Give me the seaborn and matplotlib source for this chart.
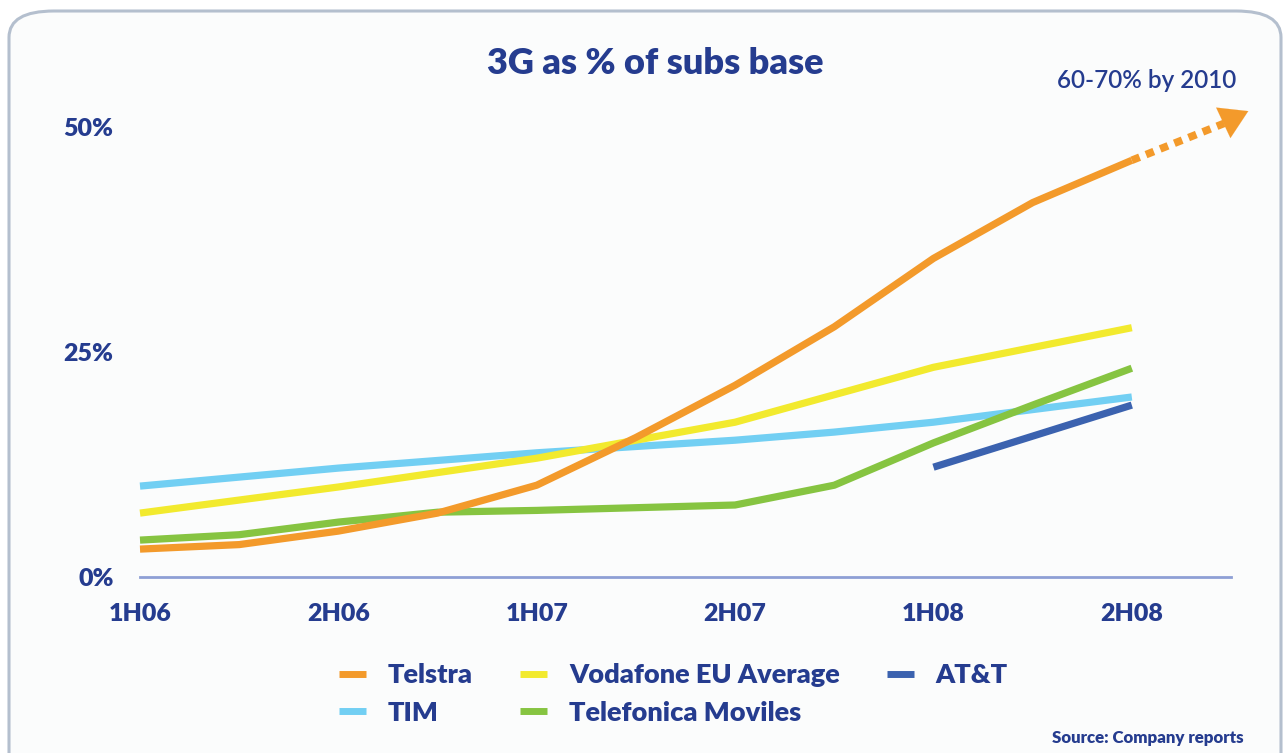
import matplotlib
matplotlib.use("Agg")
import matplotlib.pyplot as plt
from matplotlib.patches import FancyBboxPatch
from matplotlib.lines import Line2D
import seaborn as sns
import pandas as pd

# ---- data ----
tick_labels = ["1H06", "2H06", "1H07", "2H07", "1H08", "2H08"]
tick_pos = [0, 2, 4, 6, 8, 10]  # half-year positions on a quarter grid

telstra_x = [0, 1, 2, 3, 4, 5, 6, 7, 8, 9, 10]
telstra_y = [3.1, 3.6, 5.1, 7.1, 10.2, 15.5, 21.3, 27.8, 35.4, 41.6, 46.3]

vodafone_x = [0, 2, 4, 6, 8, 10]
vodafone_y = [7.1, 10.0, 13.2, 17.2, 23.3, 27.7]

tim_x = [0, 2, 4, 6, 7, 8, 10]
tim_y = [10.1, 12.1, 13.8, 15.2, 16.1, 17.2, 20.0]

telefonica_x = [0, 1, 2, 3, 4, 5, 6, 7, 8, 9, 10]
telefonica_y = [4.1, 4.7, 6.1, 7.2, 7.4, 7.7, 8.0, 10.2, 14.9, 19.1, 23.2]

att_x = [8, 10]
att_y = [12.2, 19.1]

outlook_label = "60-70% by 2010"
outlook_target = (11.2, 51.9)

series = [
    ("TIM", tim_x, tim_y, "#72CFF3"),
    ("Telefonica Moviles", telefonica_x, telefonica_y, "#86C441"),
    ("Vodafone EU Average", vodafone_x, vodafone_y, "#F2EA2E"),
    ("Telstra", telstra_x, telstra_y, "#F39A2B"),
    ("AT&T", att_x, att_y, "#3B62AF"),
]
colors = {name: c for name, _, _, c in series}

NAVY = "#253C8F"
FONT = ["Lato", "DejaVu Sans"]
HEAVY = "heavy"

sns.set_theme(style="white")
plt.rcParams["font.family"] = FONT

fig = plt.figure(figsize=(12.87, 7.53), dpi=100)
fig.patch.set_facecolor("white")

# rounded background panel
panel = FancyBboxPatch((9 / 1287, -0.05), (1281 - 9) / 1287, 1 - 11 / 753 + 0.05,
                       boxstyle="round,pad=0,rounding_size=0.035",
                       transform=fig.transFigure, facecolor="#FBFCFC",
                       edgecolor="#B4BFCE", linewidth=2.2, zorder=-5)
fig.patches.append(panel)

ax = fig.add_axes([140 / 1287, 1 - 577 / 753, (1231 - 140) / 1287, (577 - 109) / 753])
ax.set_zorder(2)
ax.set_facecolor("none")

for name, xs, ys, c in series:
    df = pd.DataFrame({"x": xs, "y": ys})
    sns.lineplot(data=df, x="x", y="y", color=c, linewidth=5.2, ax=ax,
                 legend=False, clip_on=False, solid_capstyle="butt")

# dotted outlook extension for Telstra
ax.plot([telstra_x[-1], 10.93], [telstra_y[-1], 50.4], color=colors["Telstra"],
        linewidth=5.5, linestyle=(0, (1.1, 0.9)), clip_on=False,
        dash_capstyle="butt")
ax.annotate("", xy=outlook_target, xytext=(10.9, 50.35),
            arrowprops=dict(arrowstyle="-|>,head_length=0.9,head_width=0.55",
                            color=colors["Telstra"], lw=0.1, mutation_scale=22),
            annotation_clip=False)

ax.set_xlim(0, 11)
ax.set_ylim(0, 52)
ax.set_xticks(tick_pos)
ax.set_xticklabels(tick_labels)
ax.set_yticks([0, 25, 50])
ax.set_yticklabels(["0%", "25%", "50%"])
ax.set_xlabel("")
ax.set_ylabel("")
ax.tick_params(axis="both", length=0, labelcolor=NAVY, labelsize=18)
ax.tick_params(axis="x", pad=19)
ax.tick_params(axis="y", pad=19)
for lab in ax.get_xticklabels() + ax.get_yticklabels():
    lab.set_fontweight(HEAVY)
for s in ["top", "right", "left"]:
    ax.spines[s].set_visible(False)
ax.spines["bottom"].set_color("#8E9FD5")
ax.spines["bottom"].set_linewidth(2.0)
ax.grid(False)

fig.text(655 / 1287, 1 - 63 / 753, "3G as % of subs base", ha="center", va="center",
         fontsize=26, fontweight=HEAVY, color=NAVY)
fig.text(1147 / 1287, 1 - 80 / 753, outlook_label, ha="center", va="center",
         fontsize=17.5, fontweight="semibold", color=NAVY)

order = ["Telstra", "TIM", "Vodafone EU Average", "Telefonica Moviles", "AT&T"]
handles = [Line2D([0], [0], color=colors[n], linewidth=5, solid_capstyle="butt")
           for n in order]
leg = fig.legend(handles, order, ncol=3, loc="upper left",
                 bbox_to_anchor=(339 / 1287, 1 - 663 / 753), frameon=False,
                 prop={"family": FONT, "weight": HEAVY, "size": 19.5},
                 handlelength=1.0, handletextpad=0.8, columnspacing=1.75,
                 labelspacing=0.5, borderaxespad=0, borderpad=0)
for t in leg.get_texts():
    t.set_color(NAVY)

fig.text(1244 / 1287, 1 - 738 / 753, "Source: Company reports", ha="right", va="center",
         fontsize=12.2, fontweight=HEAVY, color=NAVY)

fig.savefig("out.png", dpi=100)
